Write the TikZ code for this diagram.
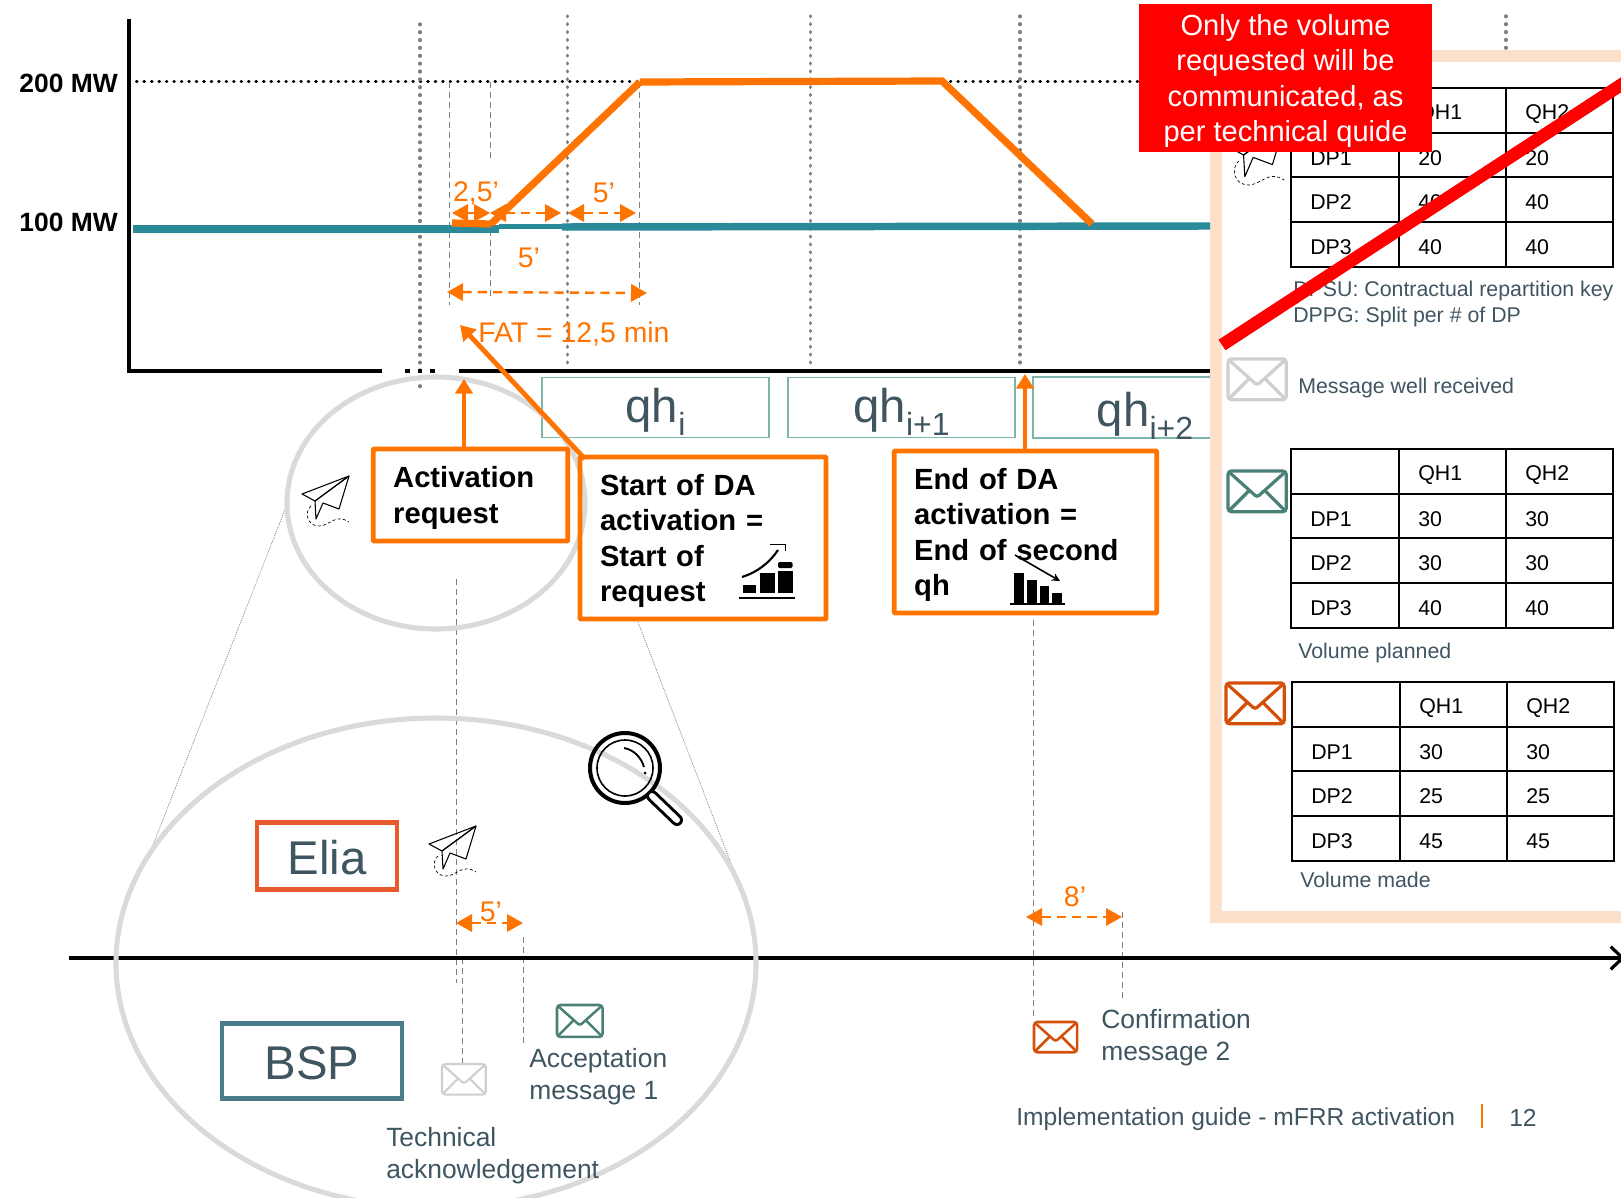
\documentclass[tikz,border=0pt]{standalone}
\usepackage{fontspec}
\setmainfont{Liberation Sans}
\usepackage{xcolor}
\usetikzlibrary{arrows.meta}

\definecolor{daorange}{HTML}{FF7300}
\definecolor{baseteal}{HTML}{2A8A99}
\definecolor{panelpeach}{HTML}{FDE0CC}
\definecolor{slatetext}{HTML}{3F5560}
\definecolor{eliared}{HTML}{E8592B}
\definecolor{bspblue}{HTML}{4A7C8C}
\definecolor{mailgreen}{HTML}{4A8076}
\definecolor{mailorange}{HTML}{D4500A}
\definecolor{mailgray}{HTML}{CFCFCF}
\definecolor{qhteal}{HTML}{7DB5AE}
\definecolor{ringgray}{HTML}{DADADA}
\definecolor{guidegray}{HTML}{7F7F7F}

\newcommand{\fsize}[2]{\fontsize{#1}{#2}\selectfont}
\newcommand{\qhsub}[1]{\raisebox{-10pt}{\fsize{24}{24}#1}}

\tikzset{
  axisline/.style={line width=2.4pt,black},
  levelgrid/.style={guidegray,line width=2.6pt,line cap=round,dash pattern=on 0.5pt off 5.4pt},
  leveldots/.style={black,line width=2.2pt,line cap=round,dash pattern=on 0.5pt off 5.1pt},
  guidedash/.style={guidegray,line width=0.65pt,dash pattern=on 4.5pt off 3pt},
  zoomdots/.style={guidegray,line width=0.5pt,dash pattern=on 0.8pt off 0.8pt},
  baseload/.style={baseteal,line width=5.6pt},
  daprofile/.style={daorange,line width=5.4pt,line join=miter},
  spanarrow/.style={daorange,line width=1.8pt,dash pattern=on 7pt off 4.5pt,{Triangle[length=12pt,width=13pt]}-{Triangle[length=12pt,width=13pt]}},
  calloutarrow/.style={daorange,line width=3.6pt,-{Triangle[length=11pt,width=13pt]}},
  ring/.style={ringgray,line width=3.8pt},
  orangebox/.style={draw=daorange,line width=3.6pt,rounded corners=0.6pt,inner xsep=15pt,inner sep=0pt,align=left,font=\bfseries\fsize{21.9}{26.6},execute at begin node={\rule{0pt}{20.6pt}}},
  actorbox/.style={line width=3.6pt,inner sep=0pt},
  actortext/.style={text=slatetext,inner sep=0pt,font=\fsize{35.5}{38}},
  qhbox/.style={draw=qhteal,line width=1.2pt,minimum width=170pt,minimum height=45pt,inner sep=0pt},
  qhtext/.style={text=slatetext,inner sep=0pt,font=\fsize{35.5}{38}},
  spanlabel/.style={text=daorange,inner sep=0pt,font=\fsize{21.3}{24}},
  mwlabel/.style={anchor=east,inner sep=0pt,font=\bfseries\fsize{19.8}{24}},
  bodytext/.style={text=slatetext,anchor=west,inner sep=0pt,align=left,font=\fsize{19.8}{24}},
  paneltext/.style={text=slatetext,anchor=west,inner sep=0pt,align=left,font=\fsize{16}{19.4}},
  celltext/.style={anchor=west,inner sep=0pt,font=\fsize{16}{18}},
  tablegrid/.style={line width=1.6pt,line cap=rect},
  pics/mailicon/.style={code={
    \draw[rounded corners=2.5pt] (0,0) rectangle (60,42);
    \draw[rounded corners=2pt] (1,1) -- (30,27) -- (59,1);
    \draw (1,41) -- (22,20);
    \draw (59,41) -- (38,20);
  }},
  pics/planeicon/.style={code={
    \draw[line width=0.8pt,line join=round] (47,0) -- (0,18) -- (13,25) -- cycle;
    \draw[line width=0.8pt,line join=round] (47,0) -- (13,25) -- (14,43) -- (21,27) -- (37,33) -- cycle;
    \draw[line width=0.5pt,dash pattern=on 2.2pt off 1.8pt] (9,30) .. controls (2,36) and (5,50) .. (17,50) .. controls (28,50) and (33,37) .. (47,46);
  }}
}

% one volume table
\newcommand{\dptable}[4]{
  \foreach \gridx in {0,108,215,322}
    \draw[tablegrid] (#1+\gridx,#2) -- (#1+\gridx,#2+179);
  \foreach \gridy in {0,45,89,134,179}
    \draw[tablegrid] (#1,#2+\gridy) -- (#1+322,#2+\gridy);
  \node[celltext] (#3qha) at (#1+127,#2+26) {QH1};
  \node[celltext] (#3qhb) at (#1+234,#2+26) {QH2};
  \foreach \vala/\valb [count=\rownum] in {#4} {
    \node[celltext] (#3dp\rownum) at (#1+19,#2+25+44.7*\rownum) {DP\rownum};
    \node[celltext] (#3a\rownum) at (#1+127,#2+25+44.7*\rownum) {\vala};
    \node[celltext] (#3b\rownum) at (#1+234,#2+25+44.7*\rownum) {\valb};
  }
}

\begin{document}
\begin{tikzpicture}[x=0.75pt,y=0.75pt,yscale=-1,xscale=1]
\useasboundingbox (0,0) rectangle (1621,1198);
\clip (0,0) rectangle (1621,1198);

% Named points
\coordinate (axistop) at (129,19);
\coordinate (axisorigin) at (129,371);
\coordinate (axisgapa) at (382,371);
\coordinate (axisgapb) at (459,371);
\coordinate (axisend) at (1210,371);
\coordinate (rampstart) at (491,224);
\coordinate (ramptop) at (640,82);
\coordinate (flatend) at (942,81);
\coordinate (rampdown) at (1092,224);
\coordinate (fattip) at (460,325);
\coordinate (startfoot) at (585,459);
\coordinate (acttip) at (464,379);
\coordinate (endtip) at (1025,374);
\coordinate (timestart) at (69,958);
\coordinate (timeend) at (1625,958);

%Panel
\draw[panelpeach,line width=9pt] (1640,56) -- (1216,56) -- (1216,917) -- (1640,917);

%Level lines
\draw[leveldots] (129,81.5) -- (1140,81.5);
\draw[levelgrid] (420,24) -- (420,392);
\draw[levelgrid] (567.5,16) -- (567.5,364);
\draw[levelgrid] (810.5,16) -- (810.5,364);
\draw[levelgrid] (1020,16) -- (1020,364);
\draw[levelgrid] (1506,16) -- (1506,50);

%Guide dashes
\draw[guidedash] (449,82) -- (449,305);
\draw[guidedash] (490,82) -- (490,160);
\draw[guidedash] (490,230) -- (490,300);
\draw[guidedash] (639,82) -- (639,305);
\draw[guidedash] (456,579) -- (456,983);
\draw[guidedash] (462,958) -- (462,1067);
\draw[guidedash] (523,937) -- (523,1043);
\draw[guidedash] (1033,620) -- (1033,1018);
\draw[guidedash] (1122,912) -- (1122,1000);

%Base load
\draw[baseload] (133,229) -- (499,229);
\draw[baseload,line width=3.8pt] (499,226.5) -- (562,226.5);
\draw[baseload] (562,227) -- (1210,226);

%Axes
\draw[axisline] (axistop) -- (axisorigin) -- (axisgapa);
\draw[axisline] (axisgapb) -- (axisend);
\draw[black,line width=3.4pt,dash pattern=on 3.6pt off 5.9pt] (405,371) -- (436,371);
\draw[axisline,-{Straight Barb[length=9pt,width=17pt]}] (timestart) -- (timeend);

%Profile
\draw[daprofile] (452,223) -- (rampstart);
\draw[daprofile] (rampstart) -- (ramptop);
\draw[daprofile] (ramptop) -- (flatend) -- (rampdown);

%Span arrows
\coordinate (spanaa) at (452,213);
\coordinate (spanab) at (490,213);
\coordinate (spanac) at (561,213);
\coordinate (spanad) at (568,213);
\coordinate (spanae) at (636,213);
\coordinate (spanba) at (447,292);
\coordinate (spanbb) at (647,293);
\coordinate (spanca) at (456,923);
\coordinate (spancb) at (523,923);
\coordinate (spanda) at (1026,917);
\coordinate (spandb) at (1122,917);
\draw[spanarrow] (spanaa) -- (spanab);
\draw[spanarrow] (spanab) -- (spanac);
\draw[spanarrow] (spanad) -- (spanae);
\draw[spanarrow] (spanba) -- (spanbb);
\draw[spanarrow] (spanca) -- (spancb);
\draw[spanarrow] (spanda) -- (spandb);

% Text Node
\node[mwlabel] (mwhigh) at (118,83) {200 MW};
\node[mwlabel] (mwlow) at (118,222) {100 MW};
\node[spanlabel] (spanfast) at (476,193) {2,5’};
\node[spanlabel] (spanhold) at (604,193) {5’};
\node[spanlabel] (spanramp) at (529,258) {5’};
\node[spanlabel,anchor=west] (fatlabel) at (478,334) {FAT = 12,5 min};
\node[spanlabel] (spanack) at (491,912) {5’};
\node[spanlabel] (spanconf) at (1075,897) {8’};

%Quarter hours
\node[qhbox] (qha) at (655.5,407.5) {};
\node[qhbox] (qhb) at (901.5,407.5) {};
\draw[qhteal,line width=1.2pt] (1210,377) -- (1033,377) -- (1033,438) -- (1210,438);
\node[qhtext] (qhatext) at (655.5,412) {qh\qhsub{i}};
\node[qhtext] (qhbtext) at (901.5,412) {qh\qhsub{i+1}};
\node[qhtext] (qhctext) at (1145,416) {qh\qhsub{i+2}};

%Rings
\draw[zoomdots] (286,507) -- (151,850);
\draw[zoomdots] (638,622) -- (732,866);
\draw[ring] (436,503) ellipse [x radius=149,y radius=126];
\draw[ring] (436,963) ellipse [x radius=320,y radius=245];

%Boxes
\node[orangebox,minimum width=146pt,minimum height=69pt,text width=116pt] (actbox) at (470.5,495) {Activation\\request};
\node[orangebox,minimum width=184.5pt,minimum height=121.5pt,text width=154.5pt] (startbox) at (703,538) {Start of DA\\activation =\\Start of\\request};
\node[orangebox,minimum width=197pt,minimum height=121.5pt,text width=167pt] (endbox) at (1025.5,532) {End of DA\\activation =\\End of second\\qh};

%Callouts
\draw[calloutarrow] (acttip |- actbox.north) -- (acttip);
\draw[calloutarrow] (startfoot) -- (fattip);
\draw[calloutarrow] (endtip |- endbox.north) -- (endtip);

%Chart up icon
\fill (742.5,585) rectangle (756,593);
\fill (760,573) rectangle (775,593);
\fill[rounded corners=1pt] (778,562) rectangle (792.5,568);
\fill (778,571) rectangle (792.5,593);
\draw[line width=1.6pt] (739,598) -- (795,598);
\draw[line width=1.6pt] (742,577) .. controls (758,572) and (770,562) .. (778,550);
\draw[line width=1.4pt] (770,544.5) -- (785.5,544.5) -- (785.5,551);

%Chart down icon
\fill (1014,573) rectangle (1024,603);
\fill (1027,580) rectangle (1037,603);
\fill (1040,586) rectangle (1049,603);
\fill (1052,593) rectangle (1062,603);
\draw[line width=1.6pt] (1010,604) -- (1065,604);
\draw[line width=1.2pt,-{Stealth[length=6pt,width=6pt]}] (1015,555) -- (1060,581);

%Magnifier
\draw[line width=3pt] (625,768) circle (35);
\draw[line width=1.2pt] (625,768) circle (28);
\draw[line width=1.4pt] (624,748) .. controls (634,750) and (641,757) .. (644,767);
\fill (645,773) circle (1.5);
\draw[line width=9pt,line cap=round] (652,796) -- (677,820);
\draw[white,line width=4.5pt,line cap=round] (652,796) -- (677,820);

%Actors
\node[actorbox,draw=eliared,minimum width=105pt,minimum height=50pt] (elia) at (327,856) {};
\node[actortext] (eliatext) at (327,858) {Elia};
\node[actorbox,draw=bspblue,minimum width=135pt,minimum height=56pt] (bsp) at (312,1061) {};
\node[actortext] (bsptext) at (312,1063) {BSP};

%Icons
\pic[yscale=-1] at (302,476) {planeicon};
\pic[yscale=-1] at (429,826) {planeicon};
\pic[scale=1.2,yscale=-1] at (1228,125) {planeicon};
\pic[mailgray,line width=1.6pt,scale=0.73,yscale=-1] at (442,1064) {mailicon};
\pic[mailgreen,line width=1.9pt,scale=0.76,yscale=-1] at (557,1005) {mailicon};
\pic[mailorange,line width=1.9pt,scale=0.72,yscale=-1] at (1034,1022) {mailicon};
\pic[mailgray,line width=2.4pt,scale=0.97,yscale=-1] at (1228,359) {mailicon};
\pic[mailgreen,line width=2.4pt,scale=0.97,yscale=-1] at (1228,471) {mailicon};
\pic[mailorange,line width=2.4pt,scale=0.97,yscale=-1] at (1226,683) {mailicon};

%Tables
\dptable{1291}{88}{taba}{20/20,40/40,40/40}
\dptable{1291}{449}{tabb}{30/30,30/30,40/40}
\dptable{1292}{682}{tabc}{30/30,25/25,45/45}

% Text Node
\node[paneltext] (keytext) at (1293,304) {DPSU: Contractual repartition key\\DPPG: Split per \# of DP};
\node[paneltext] (wellreceived) at (1298,388) {Message well received};
\node[paneltext] (planned) at (1298,653) {Volume planned};
\node[paneltext] (made) at (1300,880) {Volume made};
\node[bodytext] (acceptance) at (529,1077) {Acceptation\\message 1};
\node[bodytext] (technical) at (386,1156) {Technical\\acknowledgement};
\node[bodytext] (confirmation) at (1101,1038) {Confirmation\\message 2};
\node[bodytext,font=\fsize{18.45}{22}] (footer) at (1016,1119) {Implementation guide - mFRR activation};
\draw[daorange,line width=0.9pt] (1482,1104) -- (1482,1128);
\node[bodytext,font=\fsize{18.45}{22}] (pagenum) at (1509,1118) {12};

%Red note
\draw[red,line width=9.5pt] (1222,345) -- (1630,79);
\fill[red] (1139,4) rectangle (1432,152);
\node[text=white,inner sep=0pt,align=center,font=\fsize{21.8}{26.7}] (rednote) at (1285.5,81) {Only the volume\\requested will be\\communicated, as\\per technical quide};

\end{tikzpicture}
\end{document}
